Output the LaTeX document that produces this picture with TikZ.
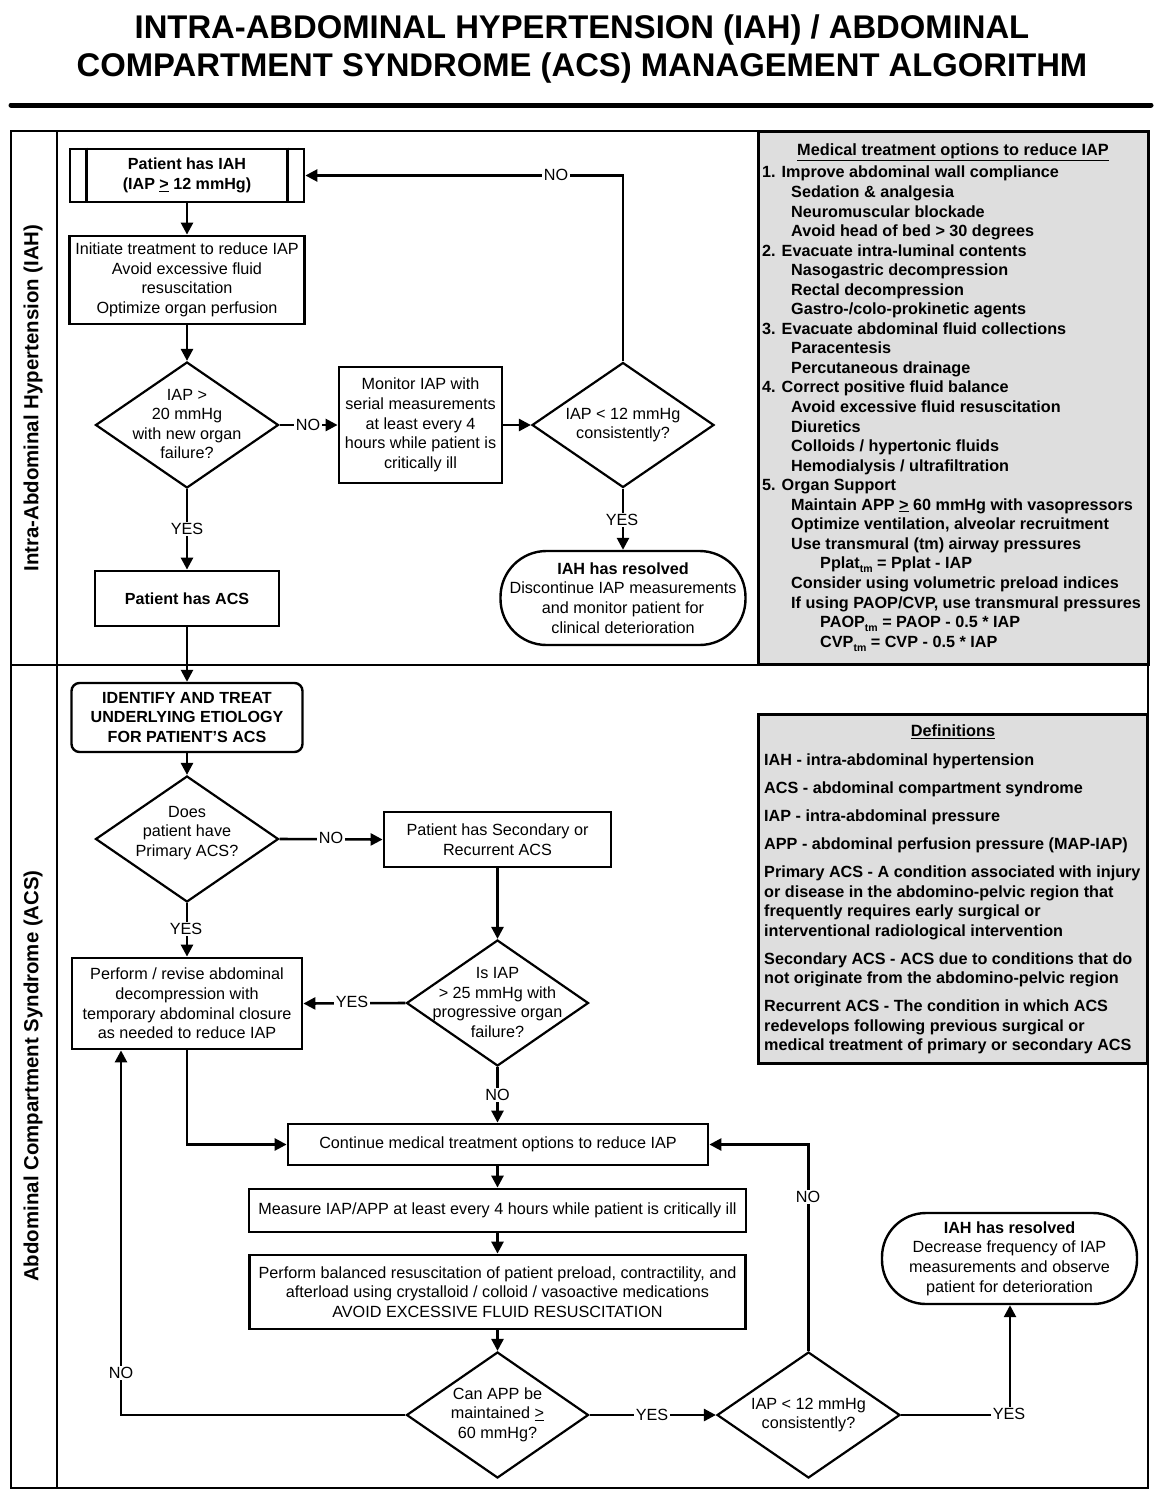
\documentclass[tikz,border=0pt]{standalone}
\usepackage{fontspec}
\setmainfont{Liberation Sans}
\usetikzlibrary{arrows.meta,shapes.geometric}
\definecolor{panelgray}{RGB}{222,222,222}
\newcommand{\uge}{\underline{>}}
\newcommand{\tmsub}{\raisebox{-4pt}{\fontsize{10.5}{10.5}\selectfont tm}}
\begin{document}
\begin{tikzpicture}[x=1pt,y=-1pt,
  every node/.style={inner sep=1pt},
  f/.style={font=\fontsize{16.2}{19.6}\selectfont},
  fb/.style={font=\bfseries\fontsize{16.1}{19.5}\selectfont},
  box/.style={draw, line width=2.8pt, align=center, f},
  dia/.style={draw, diamond, line width=2.2pt, minimum width=183pt, minimum height=126pt, inner sep=0pt},
  dtxt/.style={align=center, f},
  lbl/.style={fill=white, inner sep=1.5pt, f},
  arr/.style={line width=2.6pt, -{Triangle[length=12pt,width=12pt]}},
  ln/.style={line width=2.6pt},
  panel/.style={draw, line width=3pt, fill=panelgray},
  ptxt/.style={align=left, anchor=north west, inner sep=0pt, font=\bfseries\fontsize{16.2}{19.55}\selectfont},
]
\useasboundingbox (0,0) rectangle (1167,1491);

% title
\node[font=\bfseries\fontsize{32.8}{38}\selectfont] (t1) at (582,30) {INTRA-ABDOMINAL HYPERTENSION (IAH) / ABDOMINAL};
\node[font=\bfseries\fontsize{32.8}{38}\selectfont] (t2) at (582,68) {COMPARTMENT SYNDROME (ACS) MANAGEMENT ALGORITHM};
\draw[line width=5pt, line cap=round] (11,105) -- (1151,105);

% frame
\draw[line width=1.3pt] (11,131) rectangle (1148,1488);
\draw[line width=1.3pt] (57,131) -- (57,1488);
\draw[line width=1.3pt] (11,665) -- (1148,665);
\node[rotate=90, font=\bfseries\fontsize{20.4}{22}\selectfont] (lab1) at (33,398) {Intra-Abdominal Hypertension (IAH)};
\node[rotate=90, font=\bfseries\fontsize{20.4}{22}\selectfont] (lab2) at (33,1076) {Abdominal Compartment Syndrome (ACS)};

% panels
\node[panel, minimum width=390pt, minimum height=533pt] (med) at (953,397.5) {};
\node[fb, font=\bfseries\fontsize{16.3}{19.5}\selectfont] (medt) at (953,152) {\underline{Medical treatment options to reduce IAP}};
\node[ptxt] (medl) at (762,166) {%
1. Improve abdominal wall compliance\\
\hspace*{29pt}Sedation \& analgesia\\
\hspace*{29pt}Neuromuscular blockade\\
\hspace*{29pt}Avoid head of bed > 30 degrees\\
2. Evacuate intra-luminal contents\\
\hspace*{29pt}Nasogastric decompression\\
\hspace*{29pt}Rectal decompression\\
\hspace*{29pt}Gastro-/colo-prokinetic agents\\
3. Evacuate abdominal fluid collections\\
\hspace*{29pt}Paracentesis\\
\hspace*{29pt}Percutaneous drainage\\
4. Correct positive fluid balance\\
\hspace*{29pt}Avoid excessive fluid resuscitation\\
\hspace*{29pt}Diuretics\\
\hspace*{29pt}Colloids / hypertonic fluids\\
\hspace*{29pt}Hemodialysis / ultrafiltration\\
5. Organ Support\\
\hspace*{29pt}Maintain APP \uge{} 60 mmHg with vasopressors\\
\hspace*{29pt}Optimize ventilation, alveolar recruitment\\
\hspace*{29pt}Use transmural (tm) airway pressures\\
\hspace*{58pt}Pplat\tmsub{} = Pplat - IAP\\
\hspace*{29pt}Consider using volumetric preload indices\\
\hspace*{29pt}If using PAOP/CVP, use transmural pressures\\
\hspace*{58pt}PAOP\tmsub{} = PAOP - 0.5 * IAP\\
\hspace*{58pt}CVP\tmsub{} = CVP - 0.5 * IAP};

\node[panel, minimum width=389pt, minimum height=349pt] (defs) at (952.5,888.5) {};
\node[fb, font=\bfseries\fontsize{16.3}{19.5}\selectfont] (defst) at (953,732) {\underline{Definitions}};
\node[ptxt] (defl) at (764,754) {%
IAH - intra-abdominal hypertension\\[8.4pt]
ACS - abdominal compartment syndrome\\[8.4pt]
IAP - intra-abdominal pressure\\[8.4pt]
APP - abdominal perfusion pressure (MAP-IAP)\\[8.4pt]
Primary ACS - A condition associated with injury\\
or disease in the abdomino-pelvic region that\\
frequently requires early surgical or\\
interventional radiological intervention\\[8.4pt]
Secondary ACS - ACS due to conditions that do\\
not originate from the abdomino-pelvic region\\[8.4pt]
Recurrent ACS - The condition in which ACS\\
redevelops following previous surgical or\\
medical treatment of primary or secondary ACS};

% ---------- IAH section nodes
\node[box, fb, minimum width=234pt, minimum height=53pt] (pIAH) at (187,175.5) {Patient has IAH\\(IAP \uge{} 12 mmHg)};
\draw[line width=2.8pt] ([xshift=18pt]pIAH.north west) -- ([xshift=18pt]pIAH.south west);
\draw[line width=2.8pt] ([xshift=-18pt]pIAH.north east) -- ([xshift=-18pt]pIAH.south east);
\node[box, minimum width=235pt, minimum height=88pt] (init) at (187,280) {Initiate treatment to reduce IAP\\Avoid excessive fluid\\resuscitation\\Optimize organ perfusion};
\node[dia] (d1) at (187,425) {};
\node[dtxt] (d1t) at (187,424) {IAP >\\20 mmHg\\with new organ\\failure?};
\node[box, minimum width=163pt, minimum height=116pt] (mon) at (420.5,425) {Monitor IAP with\\serial measurements\\at least every 4\\hours while patient is\\critically ill};
\node[dia, minimum width=182pt, minimum height=125pt] (d2) at (623,425) {};
\node[dtxt] (d2t) at (623,425) {IAP < 12 mmHg\\consistently?};
\node[box, line width=2.4pt, rounded corners=46pt, minimum width=245pt, minimum height=94pt] (res1) at (623,598) {\textbf{IAH has resolved}\\Discontinue IAP measurements\\and monitor patient for\\clinical deterioration};
\node[box, fb, minimum width=184pt, minimum height=55pt] (acs) at (187,598.5) {Patient has ACS};

% IAH connectors
\draw[arr] (pIAH) -- (init);
\draw[arr] (init) -- (d1);
\draw[arr] (d1.east) -- (mon.west);
\draw[arr] (mon.east) -- (d2.west);
\draw[arr] (d2.north) |- (pIAH.east);
\draw[arr] (d2.south) -- (res1.north);
\draw[arr] (d1.south) -- (acs.north);
\node[lbl] (n1) at (308,425) {NO};
\node[lbl] (n2) at (556,175) {NO};
\node[lbl] (y1) at (622,520) {YES};
\node[lbl] (y2) at (187,529) {YES};

% ---------- ACS section nodes
\node[box, fb, line width=2.4pt, rounded corners=8pt, minimum width=231pt, minimum height=69pt] (ident) at (187,717.5) {IDENTIFY AND TREAT\\UNDERLYING ETIOLOGY\\FOR PATIENT'S ACS};
\node[dia] (d3) at (187,839) {};
\node[dtxt] (d3t) at (187,833) {Does\\patient have\\Primary ACS?};
\node[box, minimum width=227pt, minimum height=55pt] (sec) at (497.5,839.5) {Patient has Secondary or\\Recurrent ACS};
\node[dia, minimum width=182pt] (d4) at (497.5,1003) {};
\node[dtxt] (d4t) at (497.5,1002.5) {Is IAP\\> 25 mmHg with\\progressive organ\\failure?};
\node[box, minimum width=230pt, minimum height=91pt] (perf) at (187,1003.5) {Perform / revise abdominal\\decompression with\\temporary abdominal closure\\as needed to reduce IAP};
\node[box, minimum width=420pt, minimum height=41pt] (cont) at (498,1144.5) {Continue medical treatment options to reduce IAP};
\node[box, minimum width=497pt, minimum height=43pt] (meas) at (497.5,1210.5) {Measure IAP/APP at least every 4 hours while patient is critically ill};
\node[box, minimum width=496pt, minimum height=74pt] (bal) at (497.5,1292) {Perform balanced resuscitation of patient preload, contractility, and\\afterload using crystalloid / colloid / vasoactive medications\\AVOID EXCESSIVE FLUID RESUSCITATION};
\node[dia, minimum width=182pt] (d5) at (497.5,1415) {};
\node[dtxt] (d5t) at (497.5,1414.5) {Can APP be\\maintained \uge{}\\60 mmHg?};
\node[dia] (d6) at (808.5,1415) {};
\node[dtxt] (d6t) at (808.5,1415) {IAP < 12 mmHg\\consistently?};
\node[box, line width=2.4pt, rounded corners=44pt, minimum width=255pt, minimum height=91pt] (res2) at (1009.5,1258.5) {\textbf{IAH has resolved}\\Decrease frequency of IAP\\measurements and observe\\patient for deterioration};

% ACS connectors
\draw[arr] (acs.south) -- (ident.north);
\draw[arr] (ident.south) -- (d3.north);
\draw[arr] (d3.east) -- (sec.west);
\draw[arr] (d3.south) -- (perf.north);
\draw[arr] (sec.south) -- (d4.north);
\draw[arr] (d4.west) -- (perf.east);
\draw[arr] (d4.south) -- (cont.north -| d4.south);
\draw[arr] (perf.south) |- (cont.west);
\draw[arr] (cont.south -| meas.north) -- (meas.north);
\draw[arr] (meas) -- (bal);
\draw[arr] (bal.south) -- (d5.north);
\coordinate (cL) at (121,1415);
\draw[arr] (d5.west) -- (cL) -- (cL |- perf.south);
\draw[arr] (d5.east) -- (d6.west);
\draw[arr] (d6.north) |- (cont.east);
\coordinate (cR) at (1010,1415);
\draw[arr] (d6.east) -- (cR) -- (cR |- res2.south);
\node[lbl] (n3) at (331,838) {NO};
\node[lbl] (y3) at (186,929) {YES};
\node[lbl] (y4) at (352,1002) {YES};
\node[lbl] (n4) at (497.5,1095) {NO};
\node[lbl] (n5) at (121,1373) {NO};
\node[lbl] (y5) at (652,1415) {YES};
\node[lbl] (n6) at (808,1197) {NO};
\node[lbl] (y6) at (1009,1414) {YES};
\end{tikzpicture}
\end{document}
